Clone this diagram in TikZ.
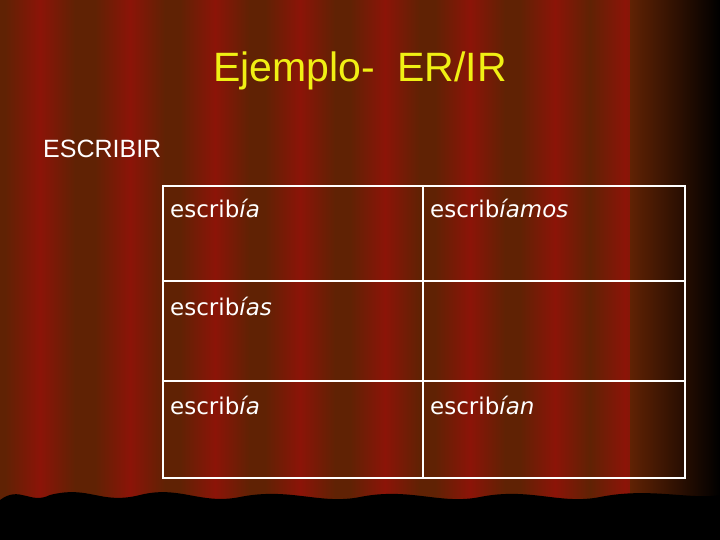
\documentclass[tikz,border=0pt]{standalone}
\usepackage{fontspec}
\setmainfont{Liberation Sans}
\newfontfamily\cellfont{DejaVu Sans}
\definecolor{curtain}{RGB}{96,34,4}
\definecolor{velvet}{RGB}{140,20,8}
\definecolor{titlecol}{RGB}{240,240,20}
\tikzset{
  stripe/.style = {left color=curtain, right color=curtain, middle color=velvet, draw=none},
  label/.style = {anchor=base west, text=white, font=\fontsize{25}{28}\selectfont, inner sep=0pt},
  cell/.style = {anchor=base west, text=white, font=\cellfont\fontsize{23}{26}\selectfont, inner sep=0pt},
  grid/.style = {draw=white, line width=1.5pt}
}
\newcommand{\verbo}[1]{escrib\textit{#1}}
\begin{document}
\begin{tikzpicture}[x=1pt, y=-1pt]
\useasboundingbox (0,0) rectangle (720,540);
\fill[curtain] (0,0) rectangle (720,540);

% curtain folds
\foreach \cx in {40,130,215,300,385,470,555,625}
  \fill[stripe] (\cx-35,0) rectangle (\cx+35,540);
\fill[left color=curtain, right color=black] (630,0) rectangle (720,540);
\fill[black] (0,540) -- (0,500) .. controls (20,485) and (30,505) .. (50,495)
  .. controls (90,485) and (100,505) .. (140,495) .. controls (180,485) and (200,505) .. (240,497)
  .. controls (290,487) and (320,505) .. (360,497) .. controls (410,487) and (440,505) .. (480,497)
  .. controls (530,487) and (560,505) .. (600,497) .. controls (650,487) and (690,500) .. (720,495)
  -- (720,540) -- cycle;

% title
\node[text=titlecol, font=\fontsize{41}{45}\selectfont, anchor=base] (title) at (360,82) {Ejemplo-\ \ ER/IR};
\node[label] (verb) at (43,158) {ESCRIBIR};

% table
\coordinate (tl) at (163,186);
\coordinate (br) at (685,478);
\draw[grid] (tl) rectangle (br);
\draw[grid] (163,281) -- (685,281);
\draw[grid] (163,381) -- (685,381);
\draw[grid] (423,186) -- (423,478);

\node[cell] (yo)  at (170,218) {\verbo{ía}};
\node[cell] (nos) at (430,218) {\verbo{íamos}};
\node[cell] (tu)  at (170,315) {\verbo{ías}};
\node[cell] (el)  at (170,414) {\verbo{ía}};
\node[cell] (ell) at (430,414) {\verbo{ían}};
\end{tikzpicture}
\end{document}
